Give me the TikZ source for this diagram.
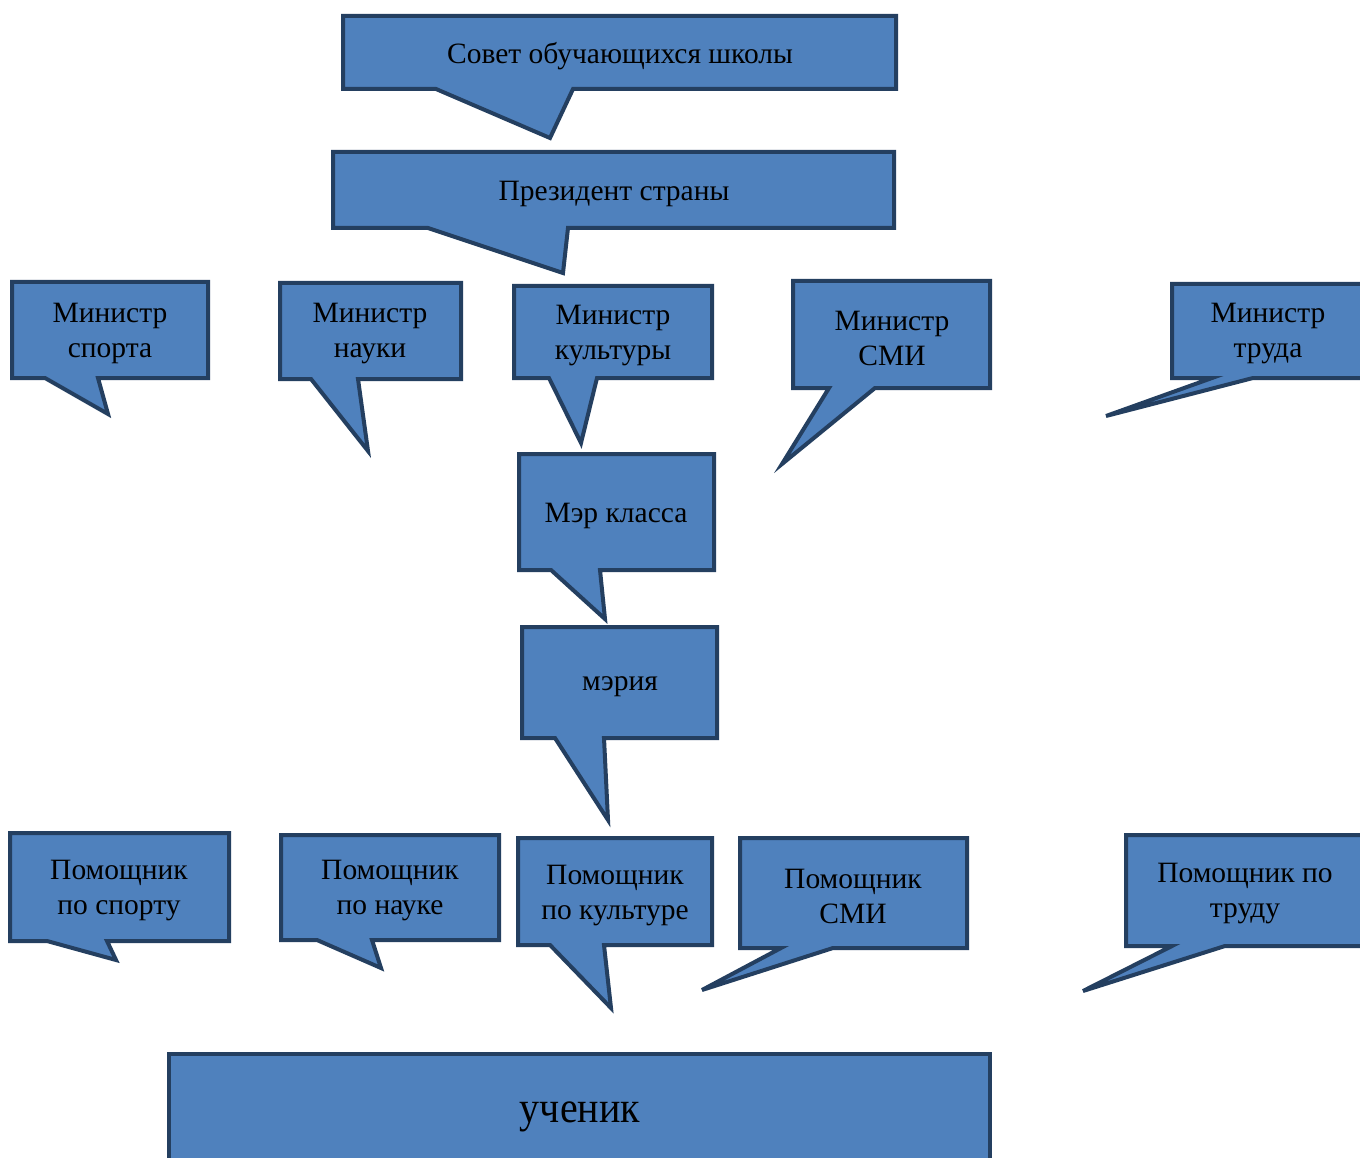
\documentclass[tikz,border=0pt]{standalone}
\usepackage{fontspec}
\setmainfont{Liberation Serif}
\definecolor{bfill}{HTML}{4F81BD}
\definecolor{bline}{HTML}{243F60}
\tikzset{
  bubble/.style={fill=bfill, draw=bline, line width=4pt, line join=miter},
  btext/.style={align=center, font=\fontsize{29.5}{35}\selectfont, text=black, inner sep=0pt}
}
\begin{document}
\begin{tikzpicture}[x=1pt,y=-1pt]
\clip (0,0) rectangle (1360,1158);
\fill[white] (0,0) rectangle (1360,1158);
% Совет
\draw[bubble] (343,16) -- (896,16) -- (896,89) -- (573,89) -- (550,138) -- (436,89) -- (343,89) -- cycle;
\node[btext] (sovet) at (620,56) {Совет обучающихся школы};
% Президент
\draw[bubble] (333,152) -- (894,152) -- (894,228) -- (568,228) -- (563,273) -- (428,228) -- (333,228) -- cycle;
\node[btext] (prez) at (614,194) {Президент страны};
% Министр спорта
\draw[bubble] (12,282) -- (208,282) -- (208,378) -- (98,378) -- (108,414) -- (45,378) -- (12,378) -- cycle;
\node[btext] (msport) at (110,333) {Министр\\спорта};
% Министр науки
\draw[bubble] (280,283) -- (461,283) -- (461,379) -- (358,379) -- (368,451) -- (311,379) -- (280,379) -- cycle;
\node[btext] (mnauka) at (370,334) {Министр\\науки};
% Министр культуры
\draw[bubble] (514,286) -- (712,286) -- (712,378) -- (597,378) -- (581,443) -- (549,378) -- (514,378) -- cycle;
\node[btext] (mkult) at (613,336) {Министр\\культуры};
% Министр СМИ
\draw[bubble] (793,281) -- (990,281) -- (990,388) -- (875,388) -- (782,464) -- (829,388) -- (793,388) -- cycle;
\node[btext] (msmi) at (892,338) {Министр\\СМИ};
% Министр труда
\draw[bubble] (1172,284) -- (1375,284) -- (1375,378) -- (1253,378) -- (1106,416) -- (1212,378) -- (1172,378) -- cycle;
\node[btext] (mtrud) at (1268,334) {Министр\\труда};
% Мэр класса
\draw[bubble] (519,454) -- (714,454) -- (714,570) -- (600,570) -- (605,619) -- (551,570) -- (519,570) -- cycle;
\node[btext] (mer) at (616,516) {Мэр класса};
% мэрия
\draw[bubble] (522,627) -- (717,627) -- (717,738) -- (604,738) -- (608,820) -- (555,738) -- (522,738) -- cycle;
\node[btext] (meria) at (620,687) {мэрия};
% Помощник по спорту
\draw[bubble] (10,833) -- (229,833) -- (229,941) -- (107,941) -- (116,960) -- (47,941) -- (10,941) -- cycle;
\node[btext] (psport) at (119,891) {Помощник\\по спорту};
% Помощник по науке
\draw[bubble] (281,835) -- (499,835) -- (499,940) -- (372,940) -- (381,968) -- (317,940) -- (281,940) -- cycle;
\node[btext] (pnauka) at (390,891) {Помощник\\по науке};
% Помощник по культуре
\draw[bubble] (518,838) -- (712,838) -- (712,945) -- (604,945) -- (611,1008) -- (550,945) -- (518,945) -- cycle;
\node[btext] (pkult) at (615,896) {Помощник\\по культуре};
% Помощник СМИ
\draw[bubble] (740,838) -- (967,838) -- (967,948) -- (833,948) -- (702,990) -- (781,948) -- (740,948) -- cycle;
\node[btext] (psmi) at (853,896) {Помощник\\СМИ};
% Помощник по труду
\draw[bubble] (1126,835) -- (1375,835) -- (1375,946) -- (1225,946) -- (1083,991) -- (1172,946) -- (1126,946) -- cycle;
\node[btext] (ptrud) at (1245,894) {Помощник по\\труду};
% ученик
\draw[bubble] (169,1054) -- (990,1054) -- (990,1175) -- (169,1175) -- cycle;
\node[btext, font=\fontsize{40}{48}\selectfont, yscale=1.1] (uchenik) at (580,1117) {ученик};
\end{tikzpicture}
\end{document}
